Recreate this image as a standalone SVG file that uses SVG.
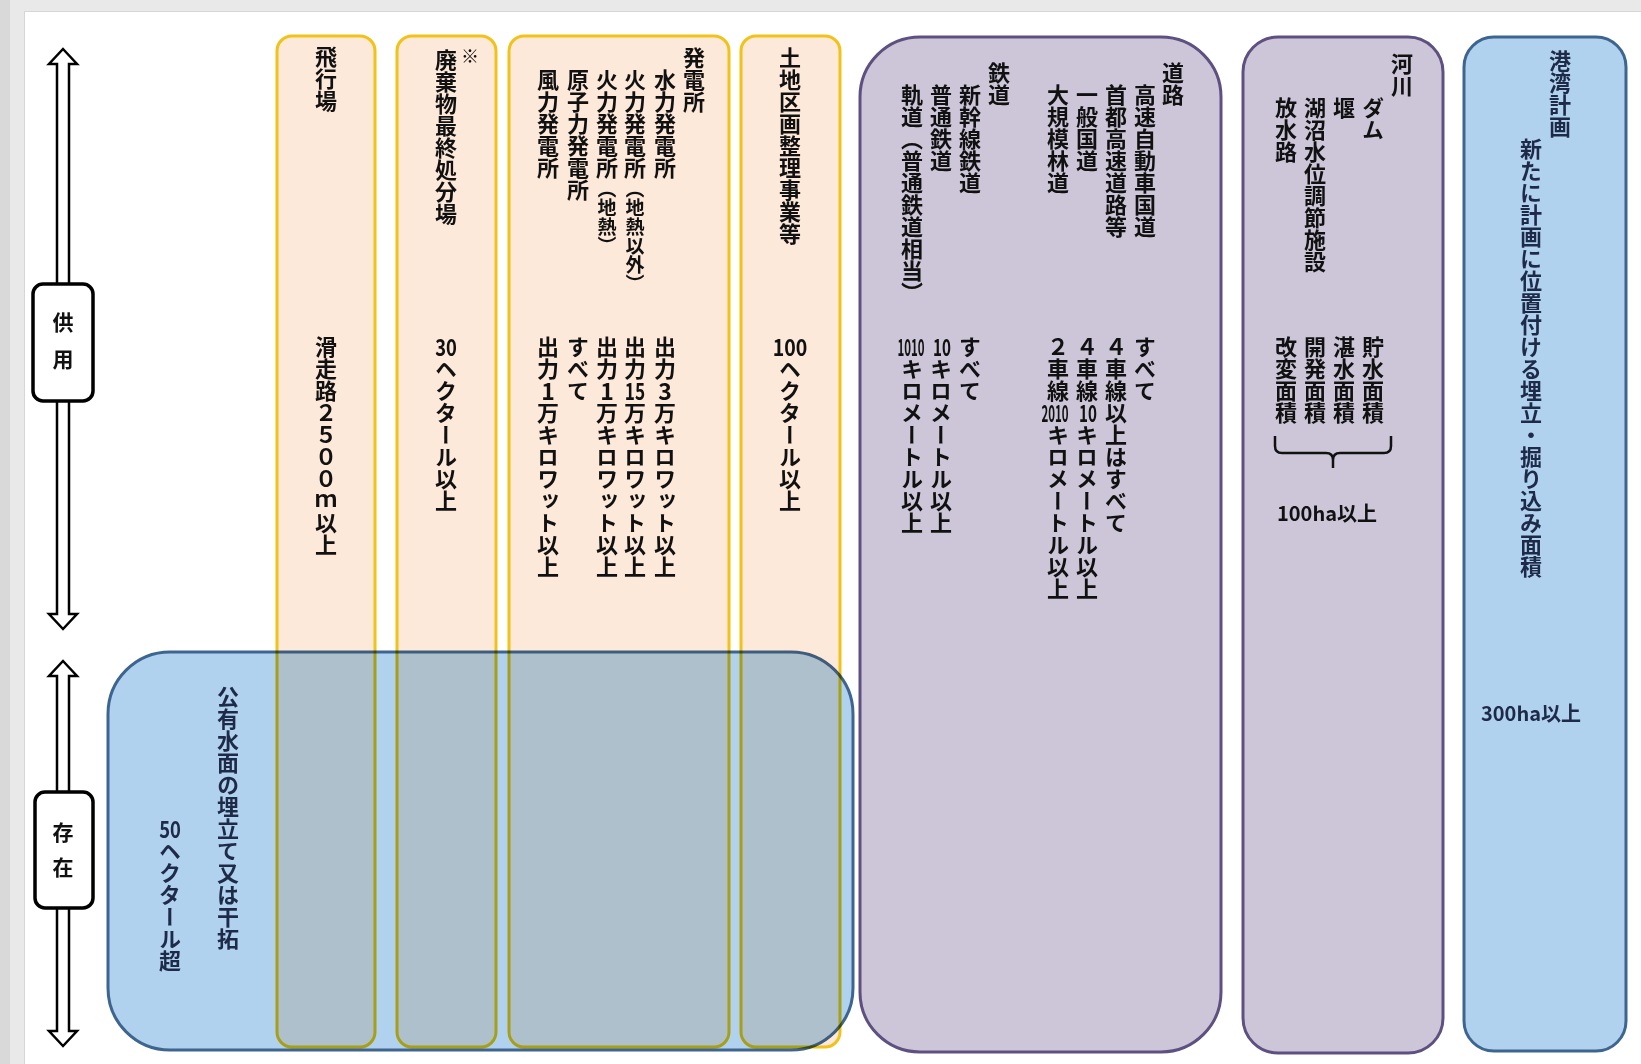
<svg xmlns="http://www.w3.org/2000/svg" width="1641" height="1064" viewBox="0 0 1641 1064">
<defs>
<style>
.t{font-family:"Noto Sans CJK JP","Noto Sans CJK SC",sans-serif;font-weight:700;font-size:22px;fill:#111}
.v{writing-mode:vertical-rl}
.s{font-size:19px}
.d{font-family:"Noto Sans CJK JP",sans-serif;font-weight:700;font-size:23px;fill:#111;text-anchor:middle}
.h{font-family:"Noto Sans CJK JP",sans-serif;font-weight:700;font-size:20px;fill:#111;text-anchor:middle}
.navy{fill:#1d2a48}
.yb{fill:#fde9da;stroke:#f2c218;stroke-width:3}
.pb{fill:#cdc6d8;stroke:#5e5080;stroke-width:3}
.bb{fill:#b0d2ee;stroke:#3e6590;stroke-width:3}
.mul{mix-blend-mode:multiply}
.lab{fill:#fff;stroke:#000;stroke-width:3.5}
.arr{fill:#fff;stroke:#000;stroke-width:2.5;stroke-linejoin:miter}
.br{fill:none;stroke:#111;stroke-width:2.5}
.lt{font-family:"Noto Sans CJK JP",sans-serif;font-weight:700;font-size:21px;fill:#111;text-anchor:middle}
</style>
</defs>
<rect width="1641" height="1064" fill="#e9e9e9"/>
<rect x="0" y="0" width="10" height="1064" fill="#d9d9d9"/>
<rect x="24.5" y="11.5" width="1620" height="1055" fill="#fff" stroke="#d6d6d6"/>

<g id="connectors">
<path class="arr" d="M63,49 L77,64 L69,64 L69,614 L77,614 L63,629 L49,614 L57,614 L57,64 L49,64 Z"/>
<path class="arr" d="M63,661 L77,676 L69,676 L69,1031 L77,1031 L63,1046 L49,1031 L57,1031 L57,676 L49,676 Z"/>
</g>

<g id="node-kyoyo">
<rect class="lab" x="33" y="284" width="60" height="117" rx="10"/>
<text class="lt" x="63" y="330">供</text>
<text class="lt" x="63" y="367">用</text>
</g>
<g id="node-sonzai">
<rect class="lab" x="35" y="792" width="58" height="116" rx="10"/>
<text class="lt" x="63" y="840">存</text>
<text class="lt" x="63" y="875">在</text>
</g>

<g id="node-hikojo">
<rect class="yb" x="277" y="36" width="98" height="1011" rx="15"/>
<text class="t v" x="326" y="46">飛行場</text>
<text class="t v" x="326" y="336">滑走路２５００ｍ以上</text>
</g>

<g id="node-haikibutsu">
<rect class="yb" x="397" y="36" width="99" height="1011" rx="15"/>
<text class="t v" x="446" y="49">廃棄物最終処分場</text>
<text class="t" x="470" y="63" style="font-size:18px;text-anchor:middle">※</text>
<text class="d" transform="translate(446,356) scale(0.8,1)">30</text>
<text class="t v" x="446" y="358">ヘクタール以上</text>
</g>

<g id="node-hatsudensho">
<rect class="yb" x="509" y="36" width="220" height="1011" rx="15"/>
<text class="t v" x="694" y="47">発電所</text>
<text class="t v" x="665" y="69">水力発電所</text>
<text class="t v" x="635" y="69">火力発電所<tspan class="s">（地熱以外）</tspan></text>
<text class="t v" x="607" y="69">火力発電所<tspan class="s">（地熱）</tspan></text>
<text class="t v" x="578" y="69">原子力発電所</text>
<text class="t v" x="548" y="69">風力発電所</text>
<text class="t v" x="665" y="336">出力</text><text class="d" x="665" y="400">3</text><text class="t v" x="665" y="402">万キロワット以上</text>
<text class="t v" x="635" y="336">出力</text><text class="d" transform="translate(635,400) scale(0.75,1)">15</text><text class="t v" x="635" y="402">万キロワット以上</text>
<text class="t v" x="607" y="336">出力</text><text class="d" x="607" y="400">1</text><text class="t v" x="607" y="402">万キロワット以上</text>
<text class="t v" x="578" y="336">すべて</text>
<text class="t v" x="548" y="336">出力</text><text class="d" x="548" y="400">1</text><text class="t v" x="548" y="402">万キロワット以上</text>
</g>

<g id="node-tochikukaku">
<rect class="yb" x="741" y="36" width="99" height="1011" rx="15"/>
<text class="t v" x="790" y="47">土地区画整理事業等</text>
<text class="d" transform="translate(790,356) scale(0.85,1)">100</text>
<text class="t v" x="790" y="358">ヘクタール以上</text>
</g>

<g id="node-doro-tetsudo">
<rect class="pb" x="860" y="37" width="361" height="1015" rx="60"/>
<text class="t v" x="1173" y="62">道路</text>
<text class="t v" x="1145" y="84">高速自動車国道</text>
<text class="t v" x="1116" y="84">首都高速道路等</text>
<text class="t v" x="1087" y="84">一般国道</text>
<text class="t v" x="1058" y="84">大規模林道</text>
<text class="t v" x="999" y="62">鉄道</text>
<text class="t v" x="970" y="84">新幹線鉄道</text>
<text class="t v" x="941" y="84">普通鉄道</text>
<text class="t v" x="912" y="84">軌道（普通鉄道相当）</text>
<text class="t v" x="1145" y="336">すべて</text>
<text class="t v" x="1116" y="336">４車線以上はすべて</text>
<text class="t v" x="1087" y="336">４車線</text><text class="d" transform="translate(1088,422) scale(0.66,1)">10</text><text class="t v" x="1087" y="424">キロメートル以上</text>
<text class="t v" x="1058" y="336">２車線</text><text class="d" transform="translate(1055,422) scale(0.5,1)">2010</text><text class="t v" x="1058" y="424">キロメートル以上</text>
<text class="t v" x="970" y="336">すべて</text>
<text class="d" transform="translate(942,356) scale(0.66,1)">10</text><text class="t v" x="941" y="358">キロメートル以上</text>
<text class="d" transform="translate(911,356) scale(0.5,1)">1010</text><text class="t v" x="912" y="358">キロメートル以上</text>
</g>

<g id="node-kasen">
<rect class="pb" x="1243" y="37" width="200" height="1016" rx="35"/>
<text class="t v" x="1402" y="53">河川</text>
<text class="t v" x="1373" y="97">ダム</text>
<text class="t v" x="1344" y="97">堰</text>
<text class="t v" x="1315" y="97">湖沼水位調節施設</text>
<text class="t v" x="1286" y="97">放水路</text>
<text class="t v" x="1373" y="336">貯水面積</text>
<text class="t v" x="1344" y="336">湛水面積</text>
<text class="t v" x="1315" y="336">開発面積</text>
<text class="t v" x="1286" y="336">改変面積</text>
<path class="br" d="M1275,436 L1275,446 Q1275,453 1282,453 L1326,453 Q1333,453 1333,460 L1333,468 M1391,436 L1391,446 Q1391,453 1384,453 L1340,453 Q1333,453 1333,460"/>
<text class="h" x="1327" y="521">100ha以上</text>
</g>

<g id="node-kowan">
<rect class="bb" x="1464" y="37" width="162" height="1014" rx="30"/>
<text class="t v navy" x="1560" y="50">港湾計画</text>
<text class="t v navy" x="1531" y="138">新たに計画に位置付ける埋立・掘り込み面積</text>
<text class="h navy" x="1531" y="721">300ha以上</text>
</g>

<g id="node-koyusuimen">
<rect class="bb mul" x="108" y="652" width="745" height="398" rx="62"/>
<text class="t v navy" x="228" y="686">公有水面の埋立て又は干拓</text>
<text class="d navy" transform="translate(170,838) scale(0.8,1)">50</text>
<text class="t v navy" x="170" y="840">ヘクタール超</text>
</g>
</svg>
